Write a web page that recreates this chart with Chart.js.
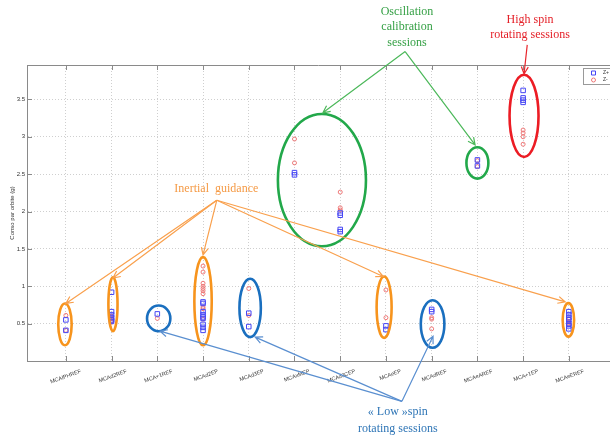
<!DOCTYPE html>
<html>
<head>
<meta charset="utf-8">
<script src="https://cdn.jsdelivr.net/npm/chart.js@4"></script>
<style>
  html, body { margin: 0; padding: 0; background: #fff; }
  #wrap { width: 610px; height: 435px; }
</style>
</head>
<body>
<div id="wrap"><canvas id="c" width="610" height="435"></canvas></div>
<script>
// Sessions along the x axis
const sessions = ['MCAIPHREF', 'MCAd2REF', 'MCA+1REF', 'MCAd2EP', 'MCAd3EP', 'MCAxMEP',
                  'MCAd3CEP', 'MCAeEP', 'MCAdREF', 'MCAeAREF', 'MCA+1EP', 'MCAeEREF'];

// Consumption per orbit (g), Z+ thrusters, one list per session
const zPlus = [
  [0.55, 0.41],
  [0.92, 0.66, 0.62, 0.58, 0.55, 0.53],
  [0.63],
  [0.79, 0.77, 0.66, 0.62, 0.59, 0.57, 0.49, 0.45, 0.41],
  [0.64, 0.46],
  [2.52, 2.49],
  [1.98, 1.95, 1.76, 1.73],
  [0.47, 0.42],
  [0.69, 0.66],
  [2.69, 2.61],
  [3.62, 3.52, 3.49, 3.46],
  [0.66, 0.62, 0.58, 0.55, 0.50, 0.47, 0.43]
];

// Consumption per orbit (g), Z- thrusters
const zMinus = [
  [0.61, 0.41],
  [0.60, 0.57, 0.54, 0.52],
  [0.57],
  [1.27, 1.19, 1.04, 1.00, 0.97, 0.94, 0.90, 0.72, 0.70, 0.56],
  [0.97, 0.61],
  [2.97, 2.65],
  [2.26, 2.05, 2.02],
  [0.95, 0.58],
  [0.58, 0.56, 0.43],
  [2.68, 2.60],
  [3.09, 3.05, 3.00, 2.90],
  [0.56, 0.53, 0.51, 0.49]
];

const yTicks = [0.5, 1, 1.5, 2, 2.5, 3, 3.5];

const toPoints = lists => lists.flatMap((vals, i) => vals.map(v => ({ x: i, y: v })));

// Session groupings, expressed in axis units (session index, g)
const GREEN = '#22a84a', RED = '#ec1c24', ORANGE = '#f7941d', BLUE = '#1a6fbf';
const groups = [
  { x: 5.60, y: 2.42, rx: 0.963, ry: 0.885, color: GREEN },
  { x: 9.00, y: 2.65, rx: 0.240, ry: 0.210, color: GREEN },
  { x: 10.02, y: 3.28, rx: 0.317, ry: 0.550, color: RED },
  { x: -0.02, y: 0.49, rx: 0.147, ry: 0.280, color: ORANGE },
  { x: 1.03, y: 0.76, rx: 0.100, ry: 0.360, color: ORANGE },
  { x: 3.00, y: 0.80, rx: 0.190, ry: 0.590, color: ORANGE },
  { x: 6.96, y: 0.72, rx: 0.164, ry: 0.410, color: ORANGE },
  { x: 10.99, y: 0.55, rx: 0.125, ry: 0.224, color: ORANGE },
  { x: 2.03, y: 0.57, rx: 0.255, ry: 0.172, color: BLUE },
  { x: 4.03, y: 0.71, rx: 0.234, ry: 0.390, color: BLUE },
  { x: 8.02, y: 0.495, rx: 0.258, ry: 0.318, color: BLUE }
];

const pointers = [
  { from: [7.42, 4.14], to: [[5.62, 3.32], [8.95, 2.89]], color: '#4cb85a' },
  { from: [10.09, 4.23], to: [[10.02, 3.84]], color: '#e8262d' },
  { from: [3.30, 2.15], to: [[0, 0.77], [1.03, 1.11], [3.0, 1.42], [6.94, 1.13], [10.92, 0.79]], color: '#f9a04d' },
  { from: [7.35, -0.54], to: [[2.06, 0.40], [4.14, 0.32], [8.03, 0.33]], color: '#5a8fd0' }
];

const captions = [
  { x: 7.46, y: [4.673, 4.472, 4.257], lines: ['Oscillation', 'calibration', 'sessions'], color: '#35a045' },
  { x: 10.15, y: [4.566, 4.365], lines: ['High spin', 'rotating sessions'], color: '#e41e26' },
  { x: 3.29, y: [2.30], lines: ['Inertial  guidance'], color: '#f59a45' },
  { x: 7.26, y: [-0.676, -0.904], lines: ['\u00AB Low \u00BBspin', 'rotating sessions'], color: '#2e75b6' }
];

const AXIS = '#8a8a8a';
const tickFont = { family: 'Liberation Sans, Arial, sans-serif', size: 6 };
const labelFont = { family: 'Liberation Sans, Arial, sans-serif', size: 5.5 };

// Box top edge and inward tick marks
const framePlugin = {
  id: 'frame',
  beforeDatasetsDraw(chart) {
    const { ctx, chartArea: a, scales: { x, y } } = chart;
    ctx.save();
    ctx.strokeStyle = AXIS;
    ctx.lineWidth = 1;
    ctx.beginPath();
    ctx.moveTo(a.left, a.top + 0.5);
    ctx.lineTo(a.right, a.top + 0.5);
    sessions.forEach((_, i) => {
      const px = Math.round(x.getPixelForValue(i)) + 0.5;
      ctx.moveTo(px, a.bottom); ctx.lineTo(px, a.bottom - 5);
      ctx.moveTo(px, a.top); ctx.lineTo(px, a.top + 5);
    });
    yTicks.forEach(v => {
      const py = Math.round(y.getPixelForValue(v)) + 0.5;
      ctx.moveTo(a.left, py); ctx.lineTo(a.left + 5, py);
    });
    ctx.stroke();
    ctx.restore();
  }
};

// Legend box in the upper right corner
const legendPlugin = {
  id: 'cornerLegend',
  afterDatasetsDraw(chart) {
    const { ctx, chartArea: a } = chart;
    const bx = a.right - 27, by = a.top + 3;
    ctx.save();
    ctx.fillStyle = '#fff';
    ctx.strokeStyle = '#9a9a9a';
    ctx.lineWidth = 1;
    ctx.fillRect(bx + 0.5, by + 0.5, 40, 16);
    ctx.strokeRect(bx + 0.5, by + 0.5, 40, 16);
    chart.data.datasets.forEach((ds, i) => {
      const cy = by + 5 + i * 7;
      ctx.strokeStyle = ds.borderColor;
      ctx.beginPath();
      if (ds.pointStyle === 'rect') ctx.rect(bx + 8.5, cy - 2, 4, 4);
      else ctx.arc(bx + 10.5, cy, 2, 0, Math.PI * 2);
      ctx.stroke();
      ctx.fillStyle = '#333';
      ctx.font = '5px Liberation Sans, Arial, sans-serif';
      ctx.textBaseline = 'middle';
      ctx.fillText(ds.label, bx + 20, cy);
    });
    ctx.restore();
  }
};

// Ellipses, pointer arrows and captions
const notesPlugin = {
  id: 'notes',
  afterDraw(chart) {
    const { ctx, scales: { x, y } } = chart;
    const P = (vx, vy) => [x.getPixelForValue(vx), y.getPixelForValue(vy)];
    const pxPerX = Math.abs(x.getPixelForValue(1) - x.getPixelForValue(0));
    const pxPerY = Math.abs(y.getPixelForValue(0) - y.getPixelForValue(1));
    ctx.save();

    groups.forEach(g => {
      const [cx, cy] = P(g.x, g.y);
      ctx.strokeStyle = g.color;
      ctx.lineWidth = 2.6;
      ctx.beginPath();
      ctx.ellipse(cx, cy, g.rx * pxPerX, g.ry * pxPerY, 0, 0, Math.PI * 2);
      ctx.stroke();
    });

    pointers.forEach(p => {
      const [ox, oy] = P(p.from[0], p.from[1]);
      ctx.strokeStyle = p.color;
      ctx.lineWidth = 1.2;
      p.to.forEach(t => {
        const [tx, ty] = P(t[0], t[1]);
        const ang = Math.atan2(ty - oy, tx - ox);
        const head = 8, spread = 0.45;
        ctx.beginPath();
        ctx.moveTo(ox, oy);
        ctx.lineTo(tx, ty);
        ctx.moveTo(tx - head * Math.cos(ang - spread), ty - head * Math.sin(ang - spread));
        ctx.lineTo(tx, ty);
        ctx.lineTo(tx - head * Math.cos(ang + spread), ty - head * Math.sin(ang + spread));
        ctx.stroke();
      });
    });

    ctx.font = '12px "Liberation Serif", "Times New Roman", serif';
    ctx.textAlign = 'center';
    ctx.textBaseline = 'middle';
    captions.forEach(c => {
      ctx.fillStyle = c.color;
      c.lines.forEach((line, i) => {
        const [tx, ty] = P(c.x, c.y[i]);
        ctx.fillText(line, tx, ty);
      });
    });
    ctx.restore();
  }
};

new Chart(document.getElementById('c'), {
  type: 'scatter',
  data: {
    datasets: [
      {
        label: 'Z+',
        data: toPoints(zPlus),
        pointStyle: 'rect',
        pointRadius: 3.2,
        pointHoverRadius: 3.2,
        borderColor: '#4646f5',
        backgroundColor: 'rgba(0,0,0,0)',
        borderWidth: 1
      },
      {
        label: 'Z-',
        data: toPoints(zMinus),
        pointStyle: 'circle',
        pointRadius: 2,
        pointHoverRadius: 2,
        borderColor: '#ee7777',
        backgroundColor: 'rgba(0,0,0,0)',
        borderWidth: 1
      }
    ]
  },
  options: {
    responsive: false,
    animation: false,
    devicePixelRatio: 1,
    layout: { autoPadding: false, padding: { top: 65, right: 0, bottom: 0, left: 0 } },
    plugins: {
      legend: { display: false },
      tooltip: { enabled: false }
    },
    scales: {
      x: {
        type: 'linear',
        min: -0.85,
        max: 11.9,
        afterBuildTicks: s => { s.ticks = sessions.map((_, i) => ({ value: i })); },
        afterFit: s => { s.height = 74; s.paddingLeft = 0; s.paddingRight = 0; },
        grid: { color: '#cfcfcf', drawTicks: false },
        border: { color: AXIS, width: 1, dash: [1, 2] },
        ticks: {
          autoSkip: false,
          minRotation: 20,
          maxRotation: 20,
          padding: 7,
          labelOffset: 15,
          color: '#333',
          font: labelFont,
          callback: v => sessions[v]
        }
      },
      y: {
        min: 0,
        max: 3.96,
        afterBuildTicks: s => { s.ticks = yTicks.map(v => ({ value: v })); },
        afterFit: s => { s.width = 27; s.paddingTop = 0; s.paddingBottom = 0; },
        grid: { color: '#cfcfcf', drawTicks: false },
        border: { color: AXIS, width: 1, dash: [1, 2] },
        ticks: { color: '#333', font: tickFont, padding: 2, callback: v => String(v) },
        title: {
          display: true,
          text: 'Conso par orbite (g)',
          color: '#333',
          font: tickFont,
          padding: { top: 9, bottom: 0 }
        }
      }
    }
  },
  plugins: [framePlugin, legendPlugin, notesPlugin]
});
</script>
</body>
</html>
